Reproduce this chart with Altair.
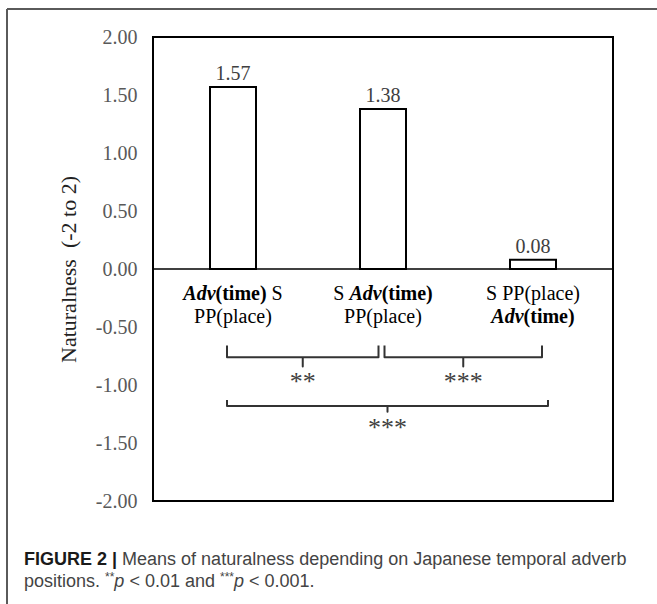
import altair as alt
import pandas as pd

# ---------------- data ----------------
categories = ["Adv(time) S PP(place)", "S Adv(time) PP(place)", "S PP(place) Adv(time)"]
means = [1.57, 1.38, 0.08]
y_ticks = [2.0, 1.5, 1.0, 0.5, 0.0, -0.5, -1.0, -1.5, -2.0]

# category label pieces: (category index, line, text, style)
label_cat = [0, 0, 0, 0, 1, 1, 1, 1, 2, 2, 2]
label_line = [0, 0, 0, 1, 0, 0, 0, 1, 0, 1, 1]
label_text = ["Adv", "(time)", " S", "PP(place)", "S ", "Adv", "(time)", "PP(place)", "S PP(place)", "Adv", "(time)"]
label_style = ["bi", "b", "r", "r", "r", "bi", "b", "r", "r", "bi", "b"]

# significance brackets (x in category units, y in scale units)
br_left = [0.46, 1.51, 0.46]
br_right = [1.47, 2.56, 2.60]
br_top = [-0.66, -0.66, -1.13]
br_level = [-0.76, -0.76, -1.18]
br_tip = [-0.84, -0.84, -1.23]
br_sig = ["**", "***", "***"]

caption_line1 = [("FIGURE 2 | ", "bold"), ("Means of naturalness depending on Japanese temporal adverb", "reg")]
caption_line2 = [("positions. ", "reg"), ("**", "sup"), ("p", "ital"), (" < 0.01 and ", "reg"),
                 ("***", "sup"), ("p", "ital"), (" < 0.001.", "reg")]

# ---------------- layout ----------------
W, H = 460, 464
PL, PT, PR, PB = 153, 37, 44, 103
SERIF = "Liberation Serif"
SANS = "Liberation Sans"

TIMES = {
    "r": {" ": 250, "S": 556, "P": 556, "(": 333, ")": 333, "p": 500, "l": 278, "a": 444, "c": 444, "e": 444},
    "b": {"(": 333, ")": 333, "t": 333, "i": 278, "m": 833, "e": 444, " ": 250},
    "bi": {"A": 667, "d": 500, "v": 444, " ": 250},
}
ARIAL_R = {" ": 278, ".": 278, "0": 556, "1": 556, "2": 556, "<": 584, "*": 389, "|": 260,
           "a": 556, "b": 556, "c": 500, "d": 556, "e": 556, "f": 278, "g": 556, "h": 556,
           "i": 222, "j": 222, "l": 222, "m": 833, "n": 556, "o": 556, "p": 556, "r": 333,
           "s": 500, "t": 278, "u": 556, "v": 500, "M": 833, "J": 500}
ARIAL_B = {"F": 611, "I": 278, "G": 778, "U": 722, "R": 722, "E": 667, " ": 278, "2": 556, "|": 280}


def tw(text, table, size):
    return sum(table.get(ch, 500) for ch in text) * size / 1000.0


pos = [i + 0.5 for i in range(len(categories))]
xscale = alt.Scale(domain=[0, 3])
yscale = alt.Scale(domain=[-2, 2])

bars_df = pd.DataFrame({"pos": pos, "mean": means, "cat": categories})

bars = alt.Chart(bars_df).mark_bar(size=46, fill="white", stroke="black", strokeWidth=2).encode(
    x=alt.X("pos:Q", scale=xscale, axis=None),
    y=alt.Y("mean:Q", scale=yscale,
            axis=alt.Axis(values=y_ticks,
                          labelExpr="replace(format(datum.value, '.2f'), '\u2212', '-')",
                          labelFont=SERIF, labelFontSize=20, labelColor="#595959",
                          ticks=False, grid=False, domain=False, labelPadding=16,
                          labelOverlap=False,
                          title="Naturalness\u00a0 (-2 to 2)", titleFont=SERIF, titleFontSize=22,
                          titleFontWeight="normal", titleColor="#222222", titlePadding=15)),
)

values = alt.Chart(bars_df).mark_text(font=SERIF, fontSize=20, color="#404040",
                                      baseline="alphabetic", dy=-7).encode(
    x=alt.X("pos:Q", scale=xscale),
    y=alt.Y("mean:Q", scale=yscale),
    text=alt.Text("mean:Q", format=".2f"),
)

zero = alt.Chart(pd.DataFrame({"z": [0]})).mark_rule(color="black", strokeWidth=1.5).encode(
    y=alt.Y("z:Q", scale=yscale))

layers = [bars, zero, values]

# category labels built from styled pieces, centred per line
FS = 20
line_dy = [31, 53.5]
style_font = {"r": ("normal", "normal"), "b": ("bold", "normal"), "bi": ("bold", "italic")}
groups = {}
for c, ln, t, s in zip(label_cat, label_line, label_text, label_style):
    groups.setdefault((c, ln), []).append((t, s))
for (c, ln), segs in groups.items():
    total = sum(tw(t, TIMES[s], FS) for t, s in segs)
    cur = -total / 2
    for t, s in segs:
        lead = len(t) - len(t.lstrip(" "))
        dx = cur + tw(" " * lead, TIMES[s], FS)
        weight, fstyle = style_font[s]
        layers.append(
            alt.Chart(pd.DataFrame({"pos": [pos[c]], "z": [0], "t": [t.strip()]}))
            .mark_text(font=SERIF, fontSize=FS, fontWeight=weight, fontStyle=fstyle, color="black",
                       align="left", baseline="alphabetic", dx=dx, dy=line_dy[ln])
            .encode(x=alt.X("pos:Q", scale=xscale), y=alt.Y("z:Q", scale=yscale), text="t:N")
        )
        cur += tw(t, TIMES[s], FS)

# brackets
rows = []
for b in range(len(br_left)):
    mid = (br_left[b] + br_right[b]) / 2
    pts = [(br_left[b], br_top[b]), (br_left[b], br_level[b]), (mid, br_level[b]), (mid, br_tip[b]),
           (mid, br_level[b]), (br_right[b], br_level[b]), (br_right[b], br_top[b])]
    for k, (xx, yy) in enumerate(pts):
        rows.append({"b": b, "k": k, "bx": xx, "by": yy})
br_df = pd.DataFrame(rows)
brackets = alt.Chart(br_df).mark_line(color="#333333", strokeWidth=2, strokeJoin="round").encode(
    x=alt.X("bx:Q", scale=xscale), y=alt.Y("by:Q", scale=yscale), detail="b:N", order="k:Q")
layers.append(brackets)

sig_df = pd.DataFrame({"sx": [(l + r) / 2 for l, r in zip(br_left, br_right)], "sy": br_tip, "sig": br_sig})
sig = alt.Chart(sig_df).mark_text(font=SERIF, fontSize=26, color="#404040", baseline="alphabetic", dy=24).encode(
    x=alt.X("sx:Q", scale=xscale), y=alt.Y("sy:Q", scale=yscale), text="sig:N")
layers.append(sig)

# outer figure frame (top and left edges)
one = pd.DataFrame({"a": [0]})
frame_top = alt.Chart(one).mark_rule(color="#5a5a5a", strokeWidth=2).encode(
    x=alt.value(7 - PL), x2=alt.value(657 - PL), y=alt.value(9 - PT))
frame_left = alt.Chart(one).mark_rule(color="#5a5a5a", strokeWidth=2).encode(
    x=alt.value(7 - PL), y=alt.value(9 - PT), y2=alt.value(604 - PT))
layers += [frame_top, frame_left]

# caption
CS = 18
def caption(segs, x0, base):
    out = []
    cur = x0
    for t, s in segs:
        if s == "bold":
            table, size, weight, fst, col, yb = ARIAL_B, CS, "bold", "normal", "#1a1a1a", base
        elif s == "sup":
            table, size, weight, fst, col, yb = ARIAL_R, 12, "normal", "normal", "#444444", base - 6
        elif s == "ital":
            table, size, weight, fst, col, yb = ARIAL_R, CS, "normal", "italic", "#444444", base
        else:
            table, size, weight, fst, col, yb = ARIAL_R, CS, "normal", "normal", "#444444", base
        lead = len(t) - len(t.lstrip(" "))
        xx = cur + tw(" " * lead, table, size)
        out.append(
            alt.Chart(pd.DataFrame({"t": [t.strip()]}))
            .mark_text(font=SANS, fontSize=size, fontWeight=weight, fontStyle=fst, color=col,
                       align="left", baseline="alphabetic")
            .encode(x=alt.value(xx - PL), y=alt.value(yb - PT), text="t:N")
        )
        cur += tw(t, table, size)
    return out

layers += caption(caption_line1, 24, 565)
layers += caption(caption_line2, 24, 587)

chart = alt.layer(*layers).properties(
    width=W, height=H,
    background="white",
    autosize=alt.AutoSizeParams(type="none"),
    padding={"left": PL, "top": PT, "right": PR, "bottom": PB},
).configure_view(stroke="black", strokeWidth=2)

chart.save("out.html", embed_options={"renderer": "svg", "actions": False})
